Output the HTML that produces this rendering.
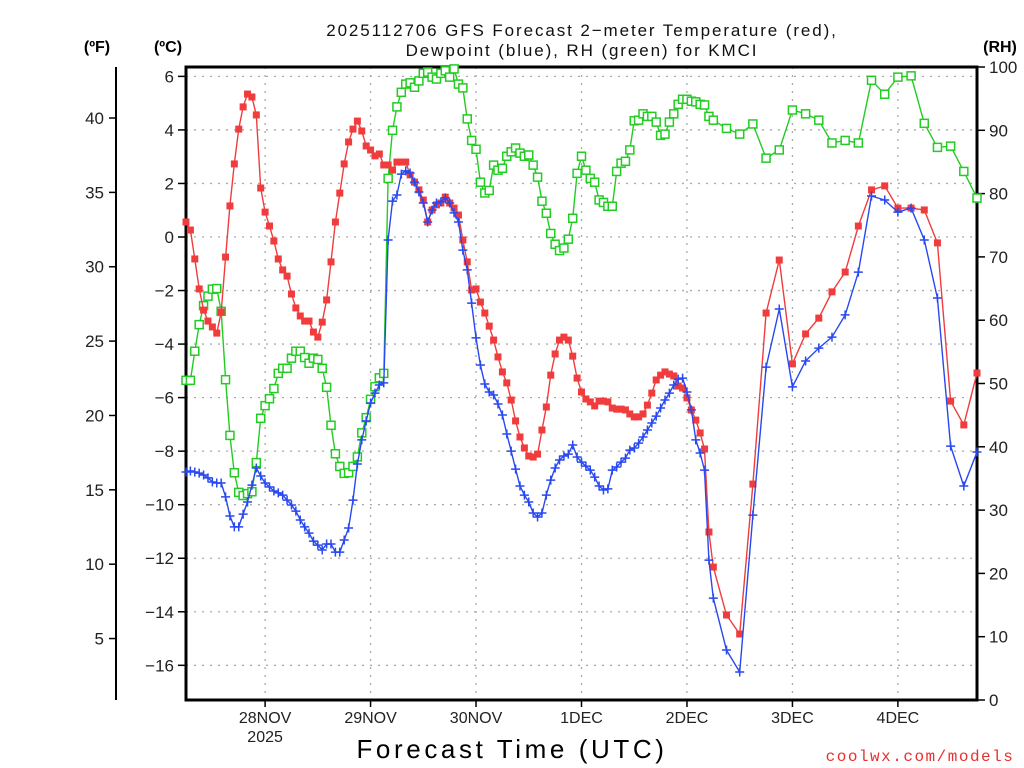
<!DOCTYPE html>
<html><head><meta charset="utf-8"><style>
html,body{margin:0;padding:0;background:#fff;}
svg{display:block;font-family:"Liberation Sans",sans-serif;}
</style></head><body>
<svg id="chart" width="1024" height="768" viewBox="0 0 1024 768">
<g font-size="17" fill="#111" text-anchor="middle" letter-spacing="1.9">
<text x="582" y="36">2025112706 GFS Forecast 2−meter Temperature (red),</text>
<text x="582" y="56">Dewpoint (blue), RH (green) for KMCI</text>
</g>
<text x="97" y="52" font-size="16" font-weight="bold" text-anchor="middle">(ºF)</text>
<text x="168" y="52" font-size="16" font-weight="bold" text-anchor="middle">(ºC)</text>
<text x="1000" y="52" font-size="16" font-weight="bold" text-anchor="middle">(RH)</text>
<g id="grid"></g>
<g id="axes"></g>
<g id="series"></g>
<text x="512" y="758" font-size="26" text-anchor="middle" letter-spacing="3.6">Forecast Time (UTC)</text>
<text x="920" y="761" font-size="16" fill="#e83030" text-anchor="middle" letter-spacing="1.5" font-family="Liberation Mono, monospace">coolwx.com/models</text>
</svg>
<script>
const dayLabels = ["28NOV","29NOV","30NOV","1DEC","2DEC","3DEC","4DEC"];
const dayHours = [18,42,66,90,114,138,162];
const cTicks = [6,4,2,0,-2,-4,-6,-8,-10,-12,-14,-16];
const fTicks = [40,35,30,25,20,15,10,5];
const rhTicks = [100,90,80,70,60,50,40,30,20,10,0];
const hours = [];
for (let h = 0; h <= 120; h++) hours.push(h);
for (let h = 123; h <= 180; h += 3) hours.push(h);
const temperature = [0.56,0.26,-0.82,-1.94,-2.73,-3.14,-3.36,-3.59,-2.80,-0.75,1.16,2.73,4.03,4.86,5.34,5.23,4.56,1.83,0.93,0.41,-0.15,-0.82,-1.23,-1.46,-2.13,-2.65,-2.95,-3.14,-3.14,-3.55,-3.74,-3.18,-2.35,-0.93,0.56,1.64,2.73,3.55,4.03,4.33,3.96,3.40,3.25,3.03,3.10,2.69,2.69,2.50,2.80,2.80,2.80,2.32,2.05,1.76,1.38,0.56,1.01,1.20,1.27,1.49,1.27,1.08,0.82,-0.11,-0.93,-1.98,-1.94,-2.43,-2.84,-3.33,-3.85,-4.48,-5.04,-5.45,-6.09,-6.87,-7.47,-7.88,-8.18,-8.22,-8.11,-7.21,-6.35,-5.16,-4.37,-3.85,-3.74,-3.85,-4.45,-5.27,-5.79,-6.05,-6.16,-6.31,-6.13,-6.13,-6.16,-6.39,-6.43,-6.43,-6.46,-6.61,-6.72,-6.72,-6.61,-6.28,-5.83,-5.34,-5.16,-5.04,-5.12,-5.19,-5.57,-5.64,-6.01,-6.46,-6.84,-7.32,-7.92,-11.02,-12.33,-14.12,-14.83,-9.23,-2.84,-0.86,-4.74,-3.62,-3.03,-2.05,-1.31,0.41,1.76,1.91,1.08,1.08,1.01,-0.22,-6.13,-7.02,-5.08];
const dewpoint = [-8.78,-8.74,-8.78,-8.82,-8.89,-9.00,-9.15,-9.19,-9.19,-9.71,-10.42,-10.83,-10.83,-10.35,-9.90,-9.27,-8.63,-8.93,-9.19,-9.34,-9.49,-9.56,-9.64,-9.83,-10.01,-10.24,-10.57,-10.83,-11.06,-11.36,-11.51,-11.69,-11.47,-11.47,-11.77,-11.77,-11.32,-10.87,-9.83,-8.48,-7.58,-6.87,-6.20,-5.83,-5.53,-5.45,-0.11,1.34,1.57,2.35,2.47,2.39,2.05,1.68,1.27,0.56,1.01,1.27,1.31,1.46,1.27,0.90,0.56,-0.49,-1.23,-2.47,-3.77,-4.78,-5.49,-5.79,-5.90,-6.24,-6.65,-7.36,-8.00,-8.67,-9.30,-9.64,-9.90,-10.31,-10.46,-10.31,-9.64,-9.08,-8.63,-8.33,-8.18,-8.11,-7.77,-8.22,-8.41,-8.56,-8.71,-8.97,-9.30,-9.45,-9.41,-8.71,-8.59,-8.41,-8.26,-7.96,-7.88,-7.70,-7.47,-7.21,-6.95,-6.69,-6.39,-6.09,-5.83,-5.53,-5.31,-5.27,-5.79,-6.46,-7.58,-8.07,-8.71,-12.07,-13.49,-15.43,-16.25,-10.39,-4.86,-2.69,-5.60,-4.63,-4.15,-3.74,-2.91,-1.31,1.53,1.38,0.93,1.08,-0.11,-2.28,-7.81,-9.30,-8.03];
const humidity = [50.5,50.5,55.1,59.3,62.3,63.8,64.9,65.0,61.4,50.6,41.8,35.9,32.8,32.3,32.6,32.9,37.5,44.5,46.5,47.6,49.2,51.6,52.4,52.4,54.0,55.1,55.1,54.1,53.2,54.0,53.8,52.4,49.4,43.4,38.9,36.9,35.8,35.9,36.9,38.4,42.2,44.6,47.5,49.5,50.9,51.6,82.4,90.0,93.7,96.0,97.3,97.5,96.8,97.8,99.0,99.2,98.4,98.1,99.0,99.4,98.4,99.7,97.3,96.7,91.8,88.4,87.0,81.8,80.1,80.5,84.5,83.7,84.0,85.9,86.6,87.2,86.4,85.9,86.1,84.5,82.6,78.8,76.9,73.7,72.0,71.0,71.4,72.8,76.1,83.2,85.9,83.7,82.4,81.8,79.0,78.6,78.0,78.0,83.5,84.8,85.1,86.9,91.5,91.6,92.6,92.2,92.2,91.3,89.2,89.4,91.3,92.6,94.1,94.9,94.9,94.6,94.5,94.1,94.0,92.2,91.6,90.3,89.4,91.0,85.6,86.9,93.2,92.6,91.6,88.0,88.4,88.0,97.9,95.7,98.4,98.6,91.1,87.3,87.5,83.5,79.3];

const L=186,R=977,T=67,B=700;
const NS="http://www.w3.org/2000/svg";
const xS = h => L + (h/180)*(R-L);
const yC = c => 237 - c*26.77;
const yF = f => yC((f-32)/1.8);
const yRH = r => B - (r/100)*(B-T);
function mk(tag, attrs, parent){const e=document.createElementNS(NS,tag);for(const k in attrs)e.setAttribute(k,attrs[k]);parent.appendChild(e);return e;}
const grid=document.getElementById('grid'), axes=document.getElementById('axes'), series=document.getElementById('series');

cTicks.forEach(c=>{
  const gl=mk('line',{x1:L,x2:R,y1:yC(c),y2:yC(c),stroke:'#aaa','stroke-width':1.3,'stroke-dasharray':'2,6'},grid);
  
  
  const tk=mk('line',{x1:L-8,x2:L,y1:yC(c),y2:yC(c),stroke:'#000','stroke-width':1.5},axes);
  
  
  const t=mk('text',{x:L-12,y:yC(c)+6,'font-size':17,'text-anchor':'end',fill:'#222'},axes);
  t.textContent = c<0 ? '−'+Math.abs(c) : String(c);
  
  
});
dayHours.forEach((h,i)=>{
  const gl=mk('line',{x1:xS(h),x2:xS(h),y1:T,y2:B,stroke:'#aaa','stroke-width':1.3,'stroke-dasharray':'2,6'},grid);
  
  
  const tk=mk('line',{x1:xS(h),x2:xS(h),y1:B,y2:B+7,stroke:'#000','stroke-width':1.5},axes);
  
  
  const t=mk('text',{x:xS(h),y:B+23,'font-size':16,'text-anchor':'middle',fill:'#222'},axes);
  t.textContent=dayLabels[i];
  
  
});
const yr=mk('text',{x:xS(18),y:B+42,'font-size':16,'text-anchor':'middle',fill:'#222'},axes);
yr.textContent='2025';



const fl=mk('line',{x1:116,x2:116,y1:T,y2:B,stroke:'#000','stroke-width':2},axes);


fTicks.forEach(f=>{
  const tk=mk('line',{x1:109,x2:116,y1:yF(f),y2:yF(f),stroke:'#000','stroke-width':1.5},axes);
  
  
  const t=mk('text',{x:104,y:yF(f)+6,'font-size':17,'text-anchor':'end',fill:'#222'},axes);
  t.textContent=String(f);
  
  
});
rhTicks.forEach(r=>{
  const tk=mk('line',{x1:R,x2:R+8,y1:yRH(r),y2:yRH(r),stroke:'#000','stroke-width':1.5},axes);
  
  
  const t=mk('text',{x:R+12,y:yRH(r)+6,'font-size':17,'text-anchor':'start',fill:'#222'},axes);
  t.textContent=String(r);
  
  
});
const frame=mk('rect',{x:L,y:T,width:R-L,height:B-T,fill:'none',stroke:'#000','stroke-width':3},axes);



function drawSeries(vals, yFn, color, kind, name){
  const g=mk('g',{},series);
  
  
  const pts=vals.map((v,i)=>xS(hours[i]).toFixed(1)+','+yFn(v).toFixed(1)).join(' ');
  const pl=mk('polyline',{points:pts,fill:'none',stroke:color,'stroke-width':1.4},g);
  
  
  vals.forEach((v,i)=>{
    const x=xS(hours[i]), y=yFn(v);
    let m;
    if(kind==='fill') m=mk('rect',{x:x-3.5,y:y-3.5,width:7,height:7,fill:color},g);
    else if(kind==='open') m=mk('rect',{x:x-4,y:y-4,width:8,height:8,fill:'#fff',stroke:color,'stroke-width':1.5},g);
    else m=mk('path',{d:`M${x-4.5},${y}H${x+4.5}M${x},${y-4.5}V${y+4.5}`,stroke:color,'stroke-width':1.5},g);
    
    
  });
}
drawSeries(humidity, yRH, '#22cc22', 'open', 'rh');
drawSeries(temperature, yC, '#f03c3c', 'fill', 'temperature');
drawSeries(dewpoint, yC, '#2848f0', 'plus', 'dewpoint');
</script>
</body></html>
